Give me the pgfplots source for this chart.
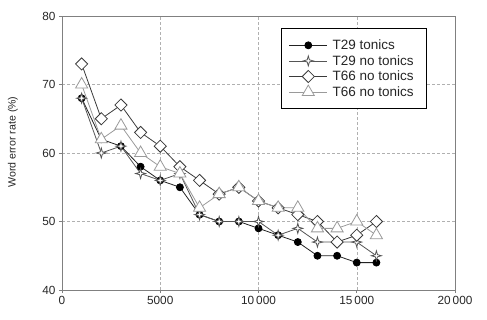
\documentclass[border=0pt]{standalone}
\usepackage{pgfplots}
\pgfplotsset{compat=1.18}
\usepackage{fontspec}
\setmainfont{Liberation Sans}
\definecolor{cdark}{HTML}{222222}
\definecolor{cstar}{HTML}{555555}
\definecolor{cdia}{HTML}{3A3A3A}
\definecolor{ctri}{HTML}{9A9A9A}
\definecolor{caxis}{HTML}{808080}
\definecolor{cgrid}{HTML}{B0B0B0}
\pgfdeclareplotmark{fourstar}{%
  \pgfpathmoveto{\pgfqpoint{0pt}{\pgfplotmarksize}}%
  \pgfpathlineto{\pgfqpoint{0.22\pgfplotmarksize}{0.22\pgfplotmarksize}}%
  \pgfpathlineto{\pgfqpoint{\pgfplotmarksize}{0pt}}%
  \pgfpathlineto{\pgfqpoint{0.22\pgfplotmarksize}{-0.22\pgfplotmarksize}}%
  \pgfpathlineto{\pgfqpoint{0pt}{-\pgfplotmarksize}}%
  \pgfpathlineto{\pgfqpoint{-0.22\pgfplotmarksize}{-0.22\pgfplotmarksize}}%
  \pgfpathlineto{\pgfqpoint{-\pgfplotmarksize}{0pt}}%
  \pgfpathlineto{\pgfqpoint{-0.22\pgfplotmarksize}{0.22\pgfplotmarksize}}%
  \pgfpathclose
  \pgfusepathqfillstroke
}
\begin{document}
\begin{tikzpicture}
\begin{axis}[
  scale only axis,
  width=393pt, height=274pt,
  xmin=0, xmax=20000, ymin=40, ymax=80,
  xtick={0,5000,10000,15000,20000},
  xticklabels={0,5000,10\,000,15\,000,20\,000},
  ytick={40,50,60,70,80},
  grid=major,
  major grid style={cgrid, densely dashed, line width=0.5pt},
  axis line style={caxis, line width=0.9pt},
  tick style={caxis, line width=0.6pt},
  tick align=outside,
  major tick length=3pt,
  xtick pos=bottom, ytick pos=left,
  ticklabel style={font=\fontsize{11.8}{13}\selectfont, text=black!85},
  /pgf/number format/assume math mode=true,
  scaled x ticks=false,
  ylabel={Word error rate (\%)},
  every axis y label/.style={at={(axis description cs:-0.125,0.54)}, rotate=90, anchor=center,
    font=\fontsize{10.6}{12}\selectfont, text=black!85},
  legend style={at={(0.929,0.955)}, anchor=north east, draw=black, line width=0.7pt,
    font=\fontsize{13.5}{16}\selectfont, text=black!85, row sep=0.3pt,
    inner xsep=8pt, inner ysep=9pt,
    nodes={inner xsep=5pt}},
  legend cell align=left,
  legend image code/.code={%
    \draw[mark repeat=2, mark phase=2] plot coordinates {(0pt,0pt) (19pt,0pt) (38pt,0pt)};},
  every axis plot/.append style={line width=0.8pt},
]
\addplot[cdark, mark=*, mark size=3.5pt, mark options={fill=black, draw=black}] coordinates {
 (1000,68) (2000,62) (3000,61) (4000,58) (5000,56) (6000,55) (7000,51) (8000,50)
 (9000,50) (10000,49) (11000,48) (12000,47) (13000,45) (14000,45) (15000,44) (16000,44)};
\addlegendentry{T29 tonics}
\addplot[cstar, mark=fourstar, mark size=5pt, mark options={fill=white, draw=cstar}] coordinates {
 (1000,68) (2000,60) (3000,61) (4000,57) (5000,56) (6000,57) (7000,51) (8000,50)
 (9000,50) (10000,50) (11000,48) (12000,49) (13000,47) (14000,47) (15000,47) (16000,45)};
\addlegendentry{T29 no tonics}
\addplot[cdia, mark=square*, mark size=4.3pt, mark options={fill=white, draw=cdia, rotate=45}] coordinates {
 (1000,73) (2000,65) (3000,67) (4000,63) (5000,61) (6000,58) (7000,56) (8000,54)
 (9000,55) (10000,53) (11000,52) (12000,51) (13000,50) (14000,47) (15000,48) (16000,50)};
\addlegendentry{T66 no tonics}
\addplot[ctri, mark=triangle*, mark size=7pt, mark options={fill=white, draw=ctri}] coordinates {
 (1000,70) (2000,62) (3000,64) (4000,60) (5000,58) (6000,57) (7000,52) (8000,54)
 (9000,55) (10000,53) (11000,52) (12000,52) (13000,49) (14000,49) (15000,50) (16000,48)};
\addlegendentry{T66 no tonics}
\end{axis}
\pgfresetboundingbox
\useasboundingbox (current axis.south west) ++(-62pt,-29pt) rectangle ++(487pt,319pt);
\end{tikzpicture}
\end{document}
